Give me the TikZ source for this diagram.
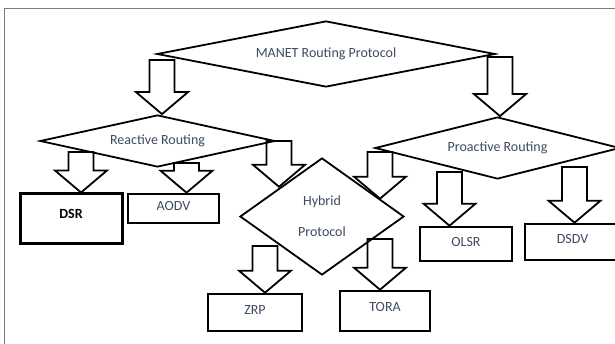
\documentclass[tikz,border=0pt]{standalone}
\usepackage{fontspec}
\setmainfont{Carlito}
\usetikzlibrary{shapes.geometric,calc}
\definecolor{labelgray}{HTML}{3E4A5E}
\definecolor{framegray}{HTML}{7A7A7A}
\begin{document}
\begin{tikzpicture}[
  x=1pt, y=-1pt,
  choice/.style={diamond, draw, line width=1.8pt, inner sep=0pt, text=labelgray, font=\fontsize{14}{17}\selectfont},
  block/.style={rectangle, draw, line width=2.6pt, inner sep=0pt, text depth=5pt, text=labelgray, font=\fontsize{14}{17}\selectfont},
  fatarrow/.style={draw, line width=1.8pt, line join=miter, to path={
    let \p1=(\tikztostart), \p2=(\tikztotarget) in
    (\x1-12.5pt,\y1) -- (\x1+12.5pt,\y1) -- (\x1+12.5pt,\y2+22pt) -- (\x1+26pt,\y2+22pt)
    -- (\x1,\y2) -- (\x1-26pt,\y2+22pt) -- (\x1-12.5pt,\y2+22pt) -- cycle}}
]
\useasboundingbox (0,0) rectangle (615,344);
\clip (0,0) rectangle (615,344);

% page frame
\draw[framegray, line width=1pt] (615,9) -- (4,9) -- (4,344);

% decision shapes
\node (manet) at (326,54) [choice, shape aspect=5.1, minimum width=338pt, minimum height=66pt] {MANET Routing Protocol};
\node (reactive) at (157.5,141) [choice, shape aspect=4.5, minimum width=235pt, minimum height=52pt] {Reactive Routing};
\node (proactive) at (497.5,148) [choice, shape aspect=4, minimum width=245pt, minimum height=62pt] {Proactive Routing};
\node (hybrid) at (322,216.5) [choice, shape aspect=1.4, minimum width=164pt, minimum height=117pt, align=center] {Hybrid\\[14pt]Protocol};

% protocols
\node (dsr) at (71,219) [block, line width=3pt, minimum width=102pt, minimum height=50pt, text depth=11pt, text=black, font=\fontsize{14}{17}\selectfont\bfseries] {DSR};
\node (aodv) at (173.5,208.5) [block, minimum width=91pt, minimum height=29pt] {AODV};
\node (zrp) at (255,312.5) [block, minimum width=94pt, minimum height=37pt] {ZRP};
\node (tora) at (385,311) [block, minimum width=90pt, minimum height=40pt, text depth=9pt] {TORA};
\node (olsr) at (466,244) [block, minimum width=92pt, minimum height=34pt] {OLSR};
\node (dsdv) at (572.5,242) [block, minimum width=95pt, minimum height=36pt, text depth=7pt] {DSDV};

% arrow tails
\coordinate (manet-l) at (162,60);
\coordinate (manet-r) at (500,57);
\coordinate (react-dsr) at (81,152);
\coordinate (react-aodv) at (186.5,163);
\coordinate (react-hyb) at (279,141);
\coordinate (pro-hyb) at (380,152);
\coordinate (pro-olsr) at (449.5,172);
\coordinate (pro-dsdv) at (574.5,167);
\coordinate (hyb-zrp) at (265,246);
\coordinate (hyb-tora) at (380,239);

% connections
\draw[fatarrow] (manet-l) to (reactive.north);
\draw[fatarrow] (manet-r) to (proactive.north);
\draw[fatarrow] (react-dsr) to (dsr.north);
\draw[fatarrow] (react-aodv) to (aodv.north);
\draw[fatarrow] (react-hyb) to (hybrid.north west);
\draw[fatarrow] (pro-hyb) to ($(hybrid.north)!0.7!(hybrid.east)$);
\draw[fatarrow] (pro-olsr) to (olsr.north);
\draw[fatarrow] (pro-dsdv) to (dsdv.north);
\draw[fatarrow] (hyb-zrp) to (zrp.north);
\draw[fatarrow] (hyb-tora) to (tora.north);

\end{tikzpicture}
\end{document}
